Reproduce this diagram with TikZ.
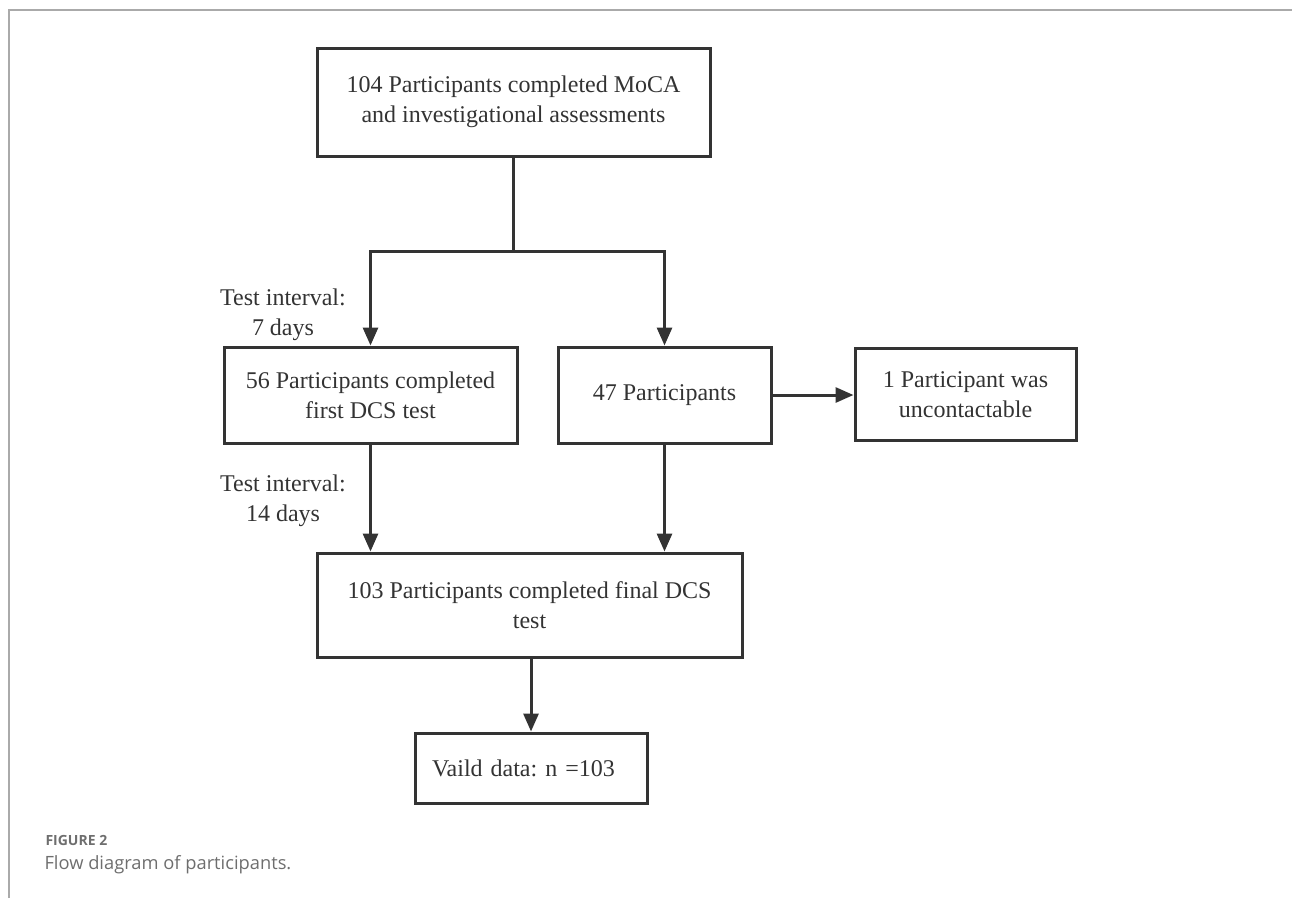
\documentclass[tikz,border=0pt]{standalone}
\usepackage{fontspec}
\setmainfont{Liberation Serif}
\newfontfamily\capfont{Open Sans}
\usetikzlibrary{arrows.meta}
\definecolor{ink}{HTML}{333333}
\definecolor{framecol}{HTML}{AAAAAA}
\definecolor{captxt}{HTML}{6E6E6E}
\frenchspacing
\begin{document}
\begin{tikzpicture}[x=1pt,y=-1pt,
  box/.style={draw=ink, line width=3pt, text=ink, font=\fontsize{24}{30}\selectfont, align=center, inner sep=0pt},
  link/.style={draw=ink, line width=3pt},
  arr/.style={link, -{Triangle[length=18pt,width=15pt]}},
  lbl/.style={text=ink, font=\fontsize{24}{30}\selectfont, align=center},
  capA/.style={anchor=base west, text=captxt, font=\capfont\bfseries\fontsize{14}{16}\selectfont},
  capB/.style={anchor=base west, text=captxt, font=\capfont\fontsize{18.3}{22}\selectfont}]
\useasboundingbox (0,0) rectangle (1292,898);
\draw[framecol, line width=1.5pt] (9,898) -- (9,10) -- (1292,10);

\node[box, minimum width=393pt, minimum height=108pt] (top) at (513.5,102) {104 Participants completed MoCA\\and investigational assessments};
\node[box, minimum width=293pt, minimum height=96pt] (left) at (370.5,395) {56 Participants completed\\first DCS test};
\node[box, minimum width=213pt, minimum height=96pt] (mid) at (664.5,395) {47 Participants};
\node[box, minimum width=221pt, minimum height=92pt] (right) at (965.5,394.5) {1 Participant was\\uncontactable};
\node[box, minimum width=425pt, minimum height=104pt] (bot) at (529.5,605) {103 Participants completed final DCS\\test};
\node[box, text width=198pt, inner xsep=17pt, minimum height=70pt, align=left] (fin) at (531,768) {Vaild data: n =103};

\node[lbl] (l1) at (283,315) {Test interval:\\7 days};
\node[lbl] (l2) at (283,501) {Test interval:\\14 days};

\coordinate (sp) at (513.5,251);
\draw[link] (top.south) -- (sp);
\draw[arr] (sp) -| (left.north);
\draw[arr] (sp) -| (mid.north);
\draw[arr] (mid.east) -- (mid.east -| right.west);
\draw[arr] (left.south) -- (left.south |- bot.north);
\draw[arr] (mid.south) -- (mid.south |- bot.north);
\draw[arr] (fin.north |- bot.south) -- (fin.north);

\node[capA] (figlab) at (42,845) {FIGURE 2};
\node[capB] (figcap) at (41,869) {Flow diagram of participants.};
\end{tikzpicture}
\end{document}
